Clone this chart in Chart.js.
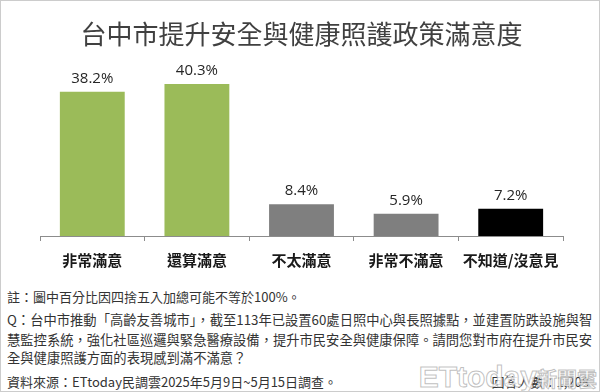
<!DOCTYPE html>
<html>
<head>
<meta charset="utf-8">
<script src="https://cdn.jsdelivr.net/npm/chart.js@4"></script>
<style>
  body { margin: 0; background: #fff; }
  #wrap { position: relative; width: 598px; height: 390px; border: 1px solid #cccccc; overflow: hidden; }
  #chart { position: absolute; left: -1px; top: -1px; }
  .note { position: absolute; left: 6px; font-family: "Noto Sans CJK TC", sans-serif; font-size: 13px; line-height: 20px; color: #333; white-space: nowrap; }
  .q { font-size: 13.3px; }
  #count { left: auto; right: 10px; }
  #mark { position: absolute; right: 2px; top: 360px; font-family: "Liberation Sans", sans-serif; font-weight: bold; font-size: 30px; line-height: 32px;
          color: rgba(255,255,255,0.85); -webkit-text-stroke: 1px rgba(150,150,150,0.6); white-space: nowrap; }
  #mark span { font-family: "Noto Sans CJK TC", sans-serif; font-size: 20px; }
</style>
</head>
<body>
<div id="wrap">
  <canvas id="chart" width="600" height="280"></canvas>
  <div class="note" style="top:286px">註：圖中百分比因四捨五入加總可能不等於100%。</div>
  <div class="note q" style="top:309px">Q：台中市推動「高齡友善城市」，截至113年已設置60處日照中心與長照據點，並建置防跌設施與智</div>
  <div class="note q" style="top:329px">慧監控系統，強化社區巡邏與緊急醫療設備，提升市民安全與健康保障。請問您對市府在提升市民安</div>
  <div class="note q" style="top:347px">全與健康照護方面的表現感到滿不滿意？</div>
  <div class="note" style="top:371px">資料來源：ETtoday民調雲2025年5月9日~5月15日調查。</div>
  <div class="note" id="count" style="top:371px">回答人數：1,208</div>
  <div id="mark">ETtoday<span>新聞雲</span></div>
</div>
<script>
// --- DADOS ---
const titulo = '台中市提升安全與健康照護政策滿意度';
const categorias = ['非常滿意', '還算滿意', '不太滿意', '非常不滿意', '不知道/沒意見'];
const valores = [38.2, 40.3, 8.4, 5.9, 7.2];

// --- CORES ---
const corBarras = ['#9bbb59', '#9bbb59', '#7f7f7f', '#7f7f7f', '#000000'];

// rótulos de porcentagem em cima das barras
const rotulosPlugin = {
    id: 'rotulos',
    afterDatasetsDraw(chart) {
        const ctx = chart.ctx;
        const meta = chart.getDatasetMeta(0);
        ctx.save();
        ctx.font = '15px "Open Sans", sans-serif';
        ctx.fillStyle = '#262626';
        ctx.textAlign = 'center';
        ctx.textBaseline = 'bottom';
        meta.data.forEach((bar, i) => {
            ctx.fillText(valores[i].toFixed(1) + '%', bar.x, bar.y - 6);
        });
        ctx.restore();
    }
};

new Chart(document.getElementById('chart'), {
    type: 'bar',
    data: {
        labels: categorias,
        datasets: [{
            data: valores,
            backgroundColor: corBarras,
            borderWidth: 0,
            barPercentage: 0.62,
            categoryPercentage: 1
        }]
    },
    options: {
        responsive: false,
        animation: false,
        layout: { padding: { left: 40, right: 37, top: 0, bottom: 0 } },
        plugins: {
            legend: { display: false },
            tooltip: { enabled: false },
            title: {
                display: true,
                text: titulo,
                color: '#404040',
                font: { family: '"Noto Sans CJK TC", sans-serif', size: 26, weight: 'normal' },
                padding: { top: 19, bottom: 16 }
            }
        },
        scales: {
            y: { display: false, min: 0, max: 45 },
            x: {
                afterFit: (axis) => { axis.height = 44; },
                border: { display: true, color: '#8c8c8c', width: 1 },
                grid: { drawOnChartArea: false, drawTicks: true, tickLength: 5, color: '#8c8c8c', offset: true },
                ticks: {
                    color: '#1a1a1a',
                    padding: 10,
                    font: { family: '"Noto Sans CJK TC", sans-serif', size: 15, weight: 'bold' }
                }
            }
        }
    },
    plugins: [rotulosPlugin]
});
</script>
</body>
</html>
